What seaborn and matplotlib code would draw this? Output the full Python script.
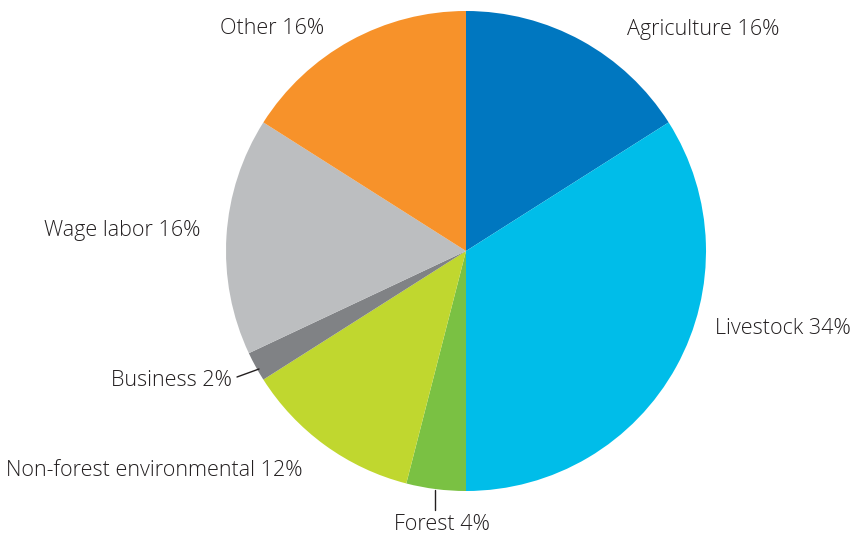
import matplotlib
matplotlib.use("Agg")
import matplotlib.pyplot as plt
import seaborn as sns

sns.set_theme(style="white")
plt.rcParams["font.family"] = ["Open Sans", "DejaVu Sans"]

# Income sources, clockwise from 12 o'clock
categories = ["Agriculture", "Livestock", "Forest", "Non-forest environmental",
              "Business", "Wage labor", "Other"]
shares = [16, 34, 4, 12, 2, 16, 16]
colors = ["#0077c0", "#00bde9", "#7ac143", "#c0d72f", "#808285", "#bcbec0", "#f7922a"]

W, H = 851, 535
CX, CY, R = 466, 251, 240  # pie centre and radius in pixels

fig = plt.figure(figsize=(W / 100, H / 100), dpi=100)
ax = fig.add_axes([0, 0, 1, 1])
ax.pie(shares, colors=colors, startangle=90, counterclock=False,
       radius=1, center=(0, 0), wedgeprops=dict(linewidth=0))
ax.set_xlim(-CX / R, (W - CX) / R)
ax.set_ylim(-(H - CY) / R, CY / R)
ax.set_aspect("auto")
ax.axis("off")


def px(x, y):
    return ((x - CX) / R, (CY - y) / R)


# label placement: (x px, y px, horizontal alignment)
label_pos = {
    "Agriculture": (627, 29, "left"),
    "Livestock": (715, 328, "left"),
    "Forest": (442, 524, "center"),
    "Non-forest environmental": (6, 470, "left"),
    "Business": (232, 381, "right"),
    "Wage labor": (200, 230, "right"),
    "Other": (272, 28, "center"),
}

for name, val in zip(categories, shares):
    x, y, ha = label_pos[name]
    ax.text(*px(x, y), f"{name} {val}%", ha=ha, va="center",
            fontsize=15.5, fontweight="light", color="#231f20")

# leader lines for the two thin wedges
for (x0, y0), (x1, y1) in [((237, 377), (259, 369)), ((435, 490), (435, 510))]:
    (a, b), (c, d) = px(x0, y0), px(x1, y1)
    ax.plot([a, c], [b, d], color="#231f20", linewidth=1)

fig.savefig("out.png", dpi=100)
